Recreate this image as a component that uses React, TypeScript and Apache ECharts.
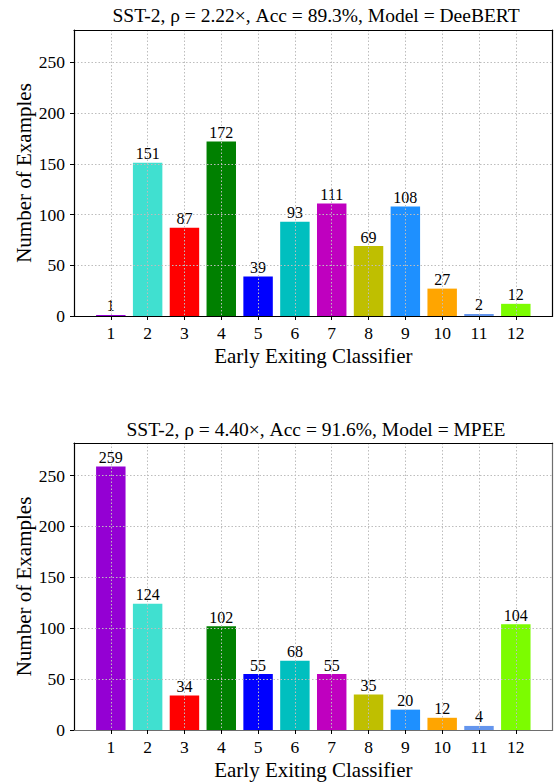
import React, { useEffect, useRef } from 'react';
import * as echarts from 'echarts';

const classifiers = ['1', '2', '3', '4', '5', '6', '7', '8', '9', '10', '11', '12'];
const deebertCounts = [1, 151, 87, 172, 39, 93, 111, 69, 108, 27, 2, 12];
const mpeeCounts = [259, 124, 34, 102, 55, 68, 55, 35, 20, 12, 4, 104];
const barColors = [
  '#9400D3', '#40E0D0', '#FF0000', '#008000', '#0000FF', '#00BFBF',
  '#BF00BF', '#BFBF00', '#1E90FF', '#FFA500', '#6495ED', '#7CFC00',
];
const yTicks = [0, 50, 100, 150, 200, 250];
const yMax = 282;
const chartTitles = [
  'SST-2, ρ = 2.22×, Acc = 89.3%, Model = DeeBERT',
  'SST-2, ρ = 4.40×, Acc = 91.6%, Model = MPEE',
];
const xName = 'Early Exiting Classifier';
const yName = 'Number of Examples';

const FONT = 'Liberation Serif';
const axisCats = [' ', ...classifiers, '  '];

function buildOption() {
  const grids = [
    { left: 74, top: 30, width: 484, height: 286 },
    { left: 74, top: 443, width: 484, height: 287 },
  ];
  const spineColors = [
    { bottom: '#000', right: '#000' },
    { bottom: '#6e6e6e', right: '#6e6e6e' },
  ];
  const grid = grids.map((g) => ({ ...g, show: false, containLabel: false }));
  const xAxis: any[] = [];
  const yAxis: any[] = [];
  const series: any[] = [];
  const dataSets = [deebertCounts, mpeeCounts];
  const inner = (i: number) => i > 0 && i < axisCats.length - 1;
  grids.forEach((g, gi) => {
    xAxis.push({
      type: 'category',
      gridIndex: gi,
      data: axisCats,
      boundaryGap: false,
      position: 'bottom',
      z: 5,
      axisLine: { show: true, onZero: false, lineStyle: { color: spineColors[gi].bottom, width: 1.2 } },
      axisTick: { show: true, length: 4, inside: false, interval: (i: number) => inner(i), lineStyle: { color: '#000', width: 1 } },
      axisLabel: { show: true, interval: 0, margin: 8, color: '#000', fontFamily: FONT, fontSize: 17.5 },
      splitLine: { show: true, interval: (i: number) => inner(i), lineStyle: { color: '#bdbdbd', type: [1.5, 2], width: 1 } },
      name: xName,
      nameLocation: 'middle',
      nameGap: 29,
      nameMoveOverlap: false,
      nameTextStyle: { color: '#000', fontFamily: FONT, fontSize: 21 },
    });
    xAxis.push({
      type: 'category',
      gridIndex: gi,
      data: axisCats,
      boundaryGap: false,
      position: 'top',
      z: 5,
      axisLine: { show: true, onZero: false, lineStyle: { color: '#000', width: 1.2 } },
      axisTick: { show: false },
      axisLabel: { show: false },
      splitLine: { show: false },
    });
    yAxis.push({
      type: 'value',
      gridIndex: gi,
      min: 0,
      max: yMax,
      position: 'left',
      z: 5,
      axisLine: { show: true, onZero: false, lineStyle: { color: '#000', width: 1.2 } },
      axisTick: { show: true, length: 4, customValues: yTicks, lineStyle: { color: '#000', width: 1 } },
      axisLabel: { show: true, customValues: yTicks, margin: 9, color: '#000', fontFamily: FONT, fontSize: 17.5 },
      splitLine: { show: true, lineStyle: { color: '#bdbdbd', type: [1.5, 2], width: 1 } },
      name: yName,
      nameLocation: 'middle',
      nameGap: 40,
      nameRotate: 90,
      nameMoveOverlap: false,
      nameTextStyle: { color: '#000', fontFamily: FONT, fontSize: 21 },
    });
    yAxis.push({
      type: 'value',
      gridIndex: gi,
      min: 0,
      max: yMax,
      position: 'right',
      z: 5,
      axisLine: { show: true, onZero: false, lineStyle: { color: spineColors[gi].right, width: 1.2 } },
      axisTick: { show: false },
      axisLabel: { show: false },
      splitLine: { show: false },
    });
    series.push({
      type: 'bar',
      xAxisIndex: gi * 2,
      yAxisIndex: gi * 2,
      barWidth: '80%',
      z: 2,
      data: ['-', ...dataSets[gi].map((v, i) => ({ value: v, itemStyle: { color: barColors[i] } })), '-'],
      label: {
        show: true,
        position: 'top',
        distance: 1,
        color: '#000',
        fontFamily: FONT,
        fontSize: 16,
      },
    });
  });
  return {
    animation: false,
    backgroundColor: '#fff',
    textStyle: { fontFamily: FONT },
    title: [
      { text: chartTitles[0], left: 316, top: 5.5, padding: 0, textAlign: 'center', textStyle: { color: '#000', fontFamily: FONT, fontSize: 19.5, fontWeight: 'normal' } },
      { text: chartTitles[1], left: 316, top: 419, padding: 0, textAlign: 'center', textStyle: { color: '#000', fontFamily: FONT, fontSize: 19.5, fontWeight: 'normal' } },
    ],
    grid,
    xAxis,
    yAxis,
    series,
  };
}

export default function App() {
  const ref = useRef<HTMLDivElement>(null);
  useEffect(() => {
    if (!ref.current) return;
    const chart = echarts.init(ref.current, undefined, { renderer: 'svg' });
    chart.setOption(buildOption() as any);
    return () => chart.dispose();
  }, []);
  return (
    <div
      ref={ref}
      style={{ position: 'fixed', left: 0, top: 0, width: 560, height: 782, background: '#fff' }}
    />
  );
}
